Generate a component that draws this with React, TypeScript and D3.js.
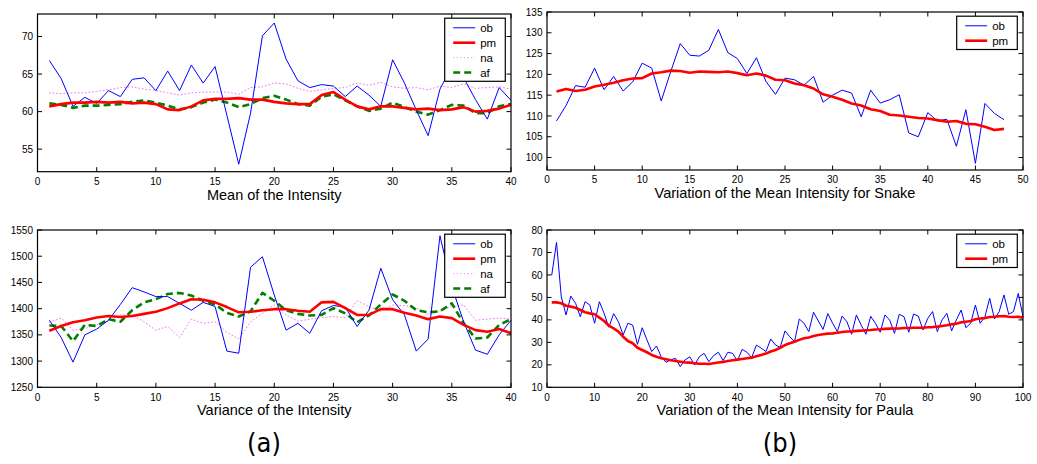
import React from "react";
import * as d3 from "d3";

// ---------- data ----------
const meanOb = [66.8,64.4,60.7,61.9,61.1,62.8,62.0,64.3,64.5,62.8,65.4,62.8,66.2,63.8,66.0,59.5,53.0,59.8,70.1,71.8,67.0,64.1,63.2,63.6,63.4,62.0,63.4,62.2,60.7,66.9,63.8,60.2,56.8,63.0,66.0,64.5,61.6,59.0,63.2,61.5];
const meanPm = [60.7,61.0,61.2,61.2,61.3,61.2,61.3,61.1,61.2,61.0,60.3,60.2,60.7,61.5,61.7,61.7,61.8,61.6,61.6,61.3,61.1,61.0,61.0,62.2,62.6,61.6,60.7,60.3,60.7,60.7,60.5,60.3,60.4,60.2,60.3,60.6,60.0,60.1,60.4,60.9];
const meanNa = [62.5,62.4,62.5,62.5,62.7,62.9,63.2,63.3,63.0,62.8,62.5,62.2,62.5,62.6,62.6,62.6,62.3,63.2,63.3,63.8,63.7,63.1,62.7,62.9,63.1,63.2,63.8,63.5,63.9,63.3,63.1,63.2,62.9,63.4,63.2,63.7,63.1,63.2,63.3,63.0];
const meanAf = [61.1,60.9,60.5,60.8,60.8,60.9,61.0,61.3,61.5,61.2,60.8,60.3,60.6,61.2,61.6,61.2,60.6,61.0,61.8,62.1,61.6,61.0,60.8,62.0,62.3,61.5,60.7,60.1,60.4,61.2,60.6,60.0,59.6,60.2,60.9,60.8,59.8,59.8,60.7,61.0];

const varOb = [1378,1345,1298,1350,1361,1378,1408,1440,1432,1423,1423,1410,1397,1412,1404,1319,1315,1479,1499,1426,1359,1372,1353,1396,1406,1403,1366,1397,1477,1417,1388,1319,1342,1539,1442,1375,1321,1313,1350,1378];
const varPm = [1358,1367,1374,1378,1383,1386,1384,1386,1390,1394,1401,1410,1418,1417,1412,1403,1393,1394,1397,1399,1399,1396,1394,1412,1413,1401,1388,1388,1399,1399,1392,1387,1380,1385,1382,1369,1359,1356,1361,1353];
const varNa = [1374,1382,1359,1362,1369,1376,1388,1388,1375,1359,1366,1345,1380,1372,1375,1355,1342,1375,1391,1407,1388,1376,1380,1383,1385,1383,1415,1404,1395,1407,1406,1401,1389,1395,1405,1407,1378,1380,1382,1380];
const varAf = [1368,1367,1338,1369,1367,1380,1375,1397,1412,1418,1428,1430,1425,1415,1408,1392,1385,1395,1430,1415,1397,1390,1387,1388,1401,1391,1374,1387,1408,1427,1415,1397,1393,1395,1410,1372,1343,1345,1369,1380];

const snakeOb = [108.8,112.5,117.3,116.9,121.5,116.3,119.5,116.0,118.2,122.7,121.5,113.6,120.7,127.4,124.6,124.4,125.8,130.8,125.2,123.8,120.2,124.0,118.3,115.2,119.1,118.7,117.4,119.5,113.3,115.0,116.2,115.5,109.8,116.2,113.1,113.9,115.1,105.9,105.0,110.8,108.8,109.2,102.7,111.5,98.6,113.0,110.6,109.1];
const snakePm = [115.9,116.5,116.0,116.3,117.1,117.5,118.0,118.6,119.0,119.1,120.2,120.5,120.9,120.8,120.4,120.7,120.6,120.5,120.7,120.3,119.8,120.2,119.7,118.7,118.6,117.8,117.4,116.6,115.2,114.6,113.9,113.0,112.5,111.6,111.2,110.3,110.1,109.8,109.5,109.4,109.0,108.6,108.8,108.1,108.0,107.4,106.6,106.9];

const paulaOb = [60.0,74.5,50.3,42.2,50.6,47.4,41.4,48.1,46.6,38.5,48.1,42.9,36.7,42.8,39.2,33.3,38.5,37.7,29.1,36.5,31.1,25.9,28.4,23.6,21.1,22.2,22.9,19.2,22.2,23.6,19.9,23.6,25.1,21.4,24.1,25.6,21.9,25.6,25.1,21.7,26.9,25.6,23.2,28.8,27.4,25.9,31.5,28.8,27.8,35.1,32.5,30.3,40.4,38.5,34.8,43.4,39.5,35.8,42.8,38.5,34.8,41.7,39.2,33.6,42.2,37.7,33.6,41.6,38.5,34.5,42.2,39.9,34.0,42.5,41.4,34.5,42.6,41.7,35.5,40.7,43.7,34.8,40.0,42.9,35.1,40.0,44.4,36.5,38.5,46.6,38.5,41.4,49.6,40.4,43.7,51.1,42.5,43.7,51.8,41.4];
const paulaPm = [47.8,47.8,47.4,46.3,45.9,45.4,44.4,43.4,42.9,42.5,41.0,39.5,37.4,36.2,34.8,32.5,30.6,29.6,27.6,26.6,25.6,24.4,23.6,22.9,22.5,22.0,21.7,21.4,21.1,21.0,20.7,20.5,20.5,20.4,20.7,21.0,21.3,21.7,22.0,22.3,22.6,22.9,23.2,23.8,24.4,25.0,25.9,26.6,27.6,28.8,29.6,30.3,31.1,31.8,32.2,32.8,33.3,33.6,33.9,34.0,34.3,34.6,34.8,34.9,35.1,35.2,35.4,35.5,35.7,35.8,36.0,36.1,36.2,36.2,36.4,36.4,36.5,36.5,36.5,36.7,36.8,37.0,37.3,37.6,38.0,38.3,38.9,39.2,39.5,40.3,40.6,40.8,41.3,41.4,41.6,41.7,41.4,41.3,41.4,41.0];

const ticksX40 = [0,5,10,15,20,25,30,35,40];
const ticksX50 = [0,5,10,15,20,25,30,35,40,45,50];
const ticksX100 = [0,10,20,30,40,50,60,70,80,90,100];
const ticksMean = [55,60,65,70];
const ticksVar = [1250,1300,1350,1400,1450,1500,1550];
const ticksSnake = [100,105,110,115,120,125,130,135];
const ticksPaula = [10,20,30,40,50,60,70,80];

const titles = [
  "Mean of the Intensity",
  "Variation of the Mean Intensity for Snake",
  "Variance of the Intensity",
  "Variation of the Mean Intensity for Paula",
];
const figLabels = ["(a)", "(b)"];

// ---------- styles ----------
const STY: Record<string, any> = {
  ob: { stroke: "#0000ff", width: 1, dash: null },
  pm: { stroke: "#ff0000", width: 2.6, dash: null },
  na: { stroke: "#f27af2", width: 1, dash: "1,2.6" },
  af: { stroke: "#008000", width: 2.6, dash: "7,4" },
};
const FONT = "'Liberation Sans', Arial, Helvetica, sans-serif";

type Series = { name: string; values: number[] };
type PanelCfg = {
  x0: number; x1: number; y0: number; y1: number;
  xDomain: [number, number]; yDomain: [number, number];
  xTicks: number[]; yTicks: number[];
  title: string; series: Series[];
};

const panels: PanelCfg[] = [
  { x0: 37.5, x1: 511, y0: 14, y1: 171.7, xDomain: [0, 40], yDomain: [52, 73], xTicks: ticksX40, yTicks: ticksMean, title: titles[0],
    series: [{ name: "ob", values: meanOb }, { name: "pm", values: meanPm }, { name: "na", values: meanNa }, { name: "af", values: meanAf }] },
  { x0: 547, x1: 1023, y0: 12, y1: 170, xDomain: [0, 50], yDomain: [97, 135], xTicks: ticksX50, yTicks: ticksSnake, title: titles[1],
    series: [{ name: "ob", values: snakeOb }, { name: "pm", values: snakePm }] },
  { x0: 37.5, x1: 511, y0: 230, y1: 387.3, xDomain: [0, 40], yDomain: [1250, 1550], xTicks: ticksX40, yTicks: ticksVar, title: titles[2],
    series: [{ name: "ob", values: varOb }, { name: "pm", values: varPm }, { name: "na", values: varNa }, { name: "af", values: varAf }] },
  { x0: 547, x1: 1023, y0: 230, y1: 387.3, xDomain: [0, 100], yDomain: [10, 80], xTicks: ticksX100, yTicks: ticksPaula, title: titles[3],
    series: [{ name: "ob", values: paulaOb }, { name: "pm", values: paulaPm }] },
];

const TICK = 4.5;

function Panel({ cfg }: { cfg: PanelCfg }) {
  const x = d3.scaleLinear().domain(cfg.xDomain).range([cfg.x0, cfg.x1]);
  const y = d3.scaleLinear().domain(cfg.yDomain).range([cfg.y1, cfg.y0]);
  const line = d3.line<number>().x((_, i) => x(i + 1)).y((d) => y(d));
  const drawOrder = ["na", "af", "ob", "pm"].filter((n) => cfg.series.some((s) => s.name === n));
  const lgW = 60.6;
  const lgRight = cfg.x1 - 5.7;
  const lgLeft = lgRight - lgW;
  const lgTop = cfg.y0 + 4.2;
  const rowH = 14.9;
  const lgH = cfg.series.length * rowH + 3.5;
  return (
    <g>
      {drawOrder.map((n) => {
        const s = cfg.series.find((q) => q.name === n)!;
        const st = STY[n];
        return (
          <path key={n} d={line(s.values) || ""} fill="none" stroke={st.stroke} strokeWidth={st.width}
            strokeDasharray={st.dash || undefined} strokeLinejoin="round" strokeLinecap={n === "na" ? "round" : "butt"} />
        );
      })}
      <rect x={cfg.x0} y={cfg.y0} width={cfg.x1 - cfg.x0} height={cfg.y1 - cfg.y0} fill="none" stroke="#000" strokeWidth={1.2} />
      {cfg.xTicks.map((t) => (
        <g key={"x" + t}>
          <line x1={x(t)} x2={x(t)} y1={cfg.y1} y2={cfg.y1 - TICK} stroke="#000" strokeWidth={1} />
          <line x1={x(t)} x2={x(t)} y1={cfg.y0} y2={cfg.y0 + TICK} stroke="#000" strokeWidth={1} />
          <text x={x(t)} y={cfg.y1 + 13.2} textAnchor="middle" fontSize={10} fontFamily={FONT} fill="#000">{t}</text>
        </g>
      ))}
      {cfg.yTicks.map((t) => (
        <g key={"y" + t}>
          <line x1={cfg.x0} x2={cfg.x0 + TICK} y1={y(t)} y2={y(t)} stroke="#000" strokeWidth={1} />
          <line x1={cfg.x1} x2={cfg.x1 - TICK} y1={y(t)} y2={y(t)} stroke="#000" strokeWidth={1} />
          <text x={cfg.x0 - 4.5} y={y(t) + 3.6} textAnchor="end" fontSize={10} fontFamily={FONT} fill="#000">{t}</text>
        </g>
      ))}
      <text x={(cfg.x0 + cfg.x1) / 2} y={cfg.y1 + 27.8} textAnchor="middle" fontSize={14.5} fontFamily={FONT} fill="#000">{cfg.title}</text>
      <rect x={lgLeft} y={lgTop} width={lgW} height={lgH} fill="#fff" stroke="#000" strokeWidth={1.2} />
      {cfg.series.map((s, i) => {
        const st = STY[s.name];
        const cy = lgTop + 9.6 + i * rowH;
        return (
          <g key={"lg" + s.name}>
            <line x1={lgLeft + 8.5} x2={lgLeft + 30.5} y1={cy} y2={cy} stroke={st.stroke} strokeWidth={st.width}
              strokeDasharray={st.dash || undefined} />
            <text x={lgLeft + 35.5} y={cy + 4} fontSize={11.5} fontFamily={FONT} fill="#000">{s.name}</text>
          </g>
        );
      })}
    </g>
  );
}

export default function App() {
  return (
    <svg width={1037} height={464} style={{ position: "absolute", left: 0, top: 0, background: "#fff" }}>
      <rect x={0} y={0} width={1037} height={464} fill="#fff" />
      {panels.map((p, i) => (
        <Panel key={i} cfg={p} />
      ))}
      <text x={264} y={452} textAnchor="middle" fontSize={27} fontFamily="'DejaVu Sans Condensed', 'DejaVu Sans', sans-serif" fill="#000">{figLabels[0]}</text>
      <text x={780} y={452} textAnchor="middle" fontSize={27} fontFamily="'DejaVu Sans Condensed', 'DejaVu Sans', sans-serif" fill="#000">{figLabels[1]}</text>
    </svg>
  );
}
